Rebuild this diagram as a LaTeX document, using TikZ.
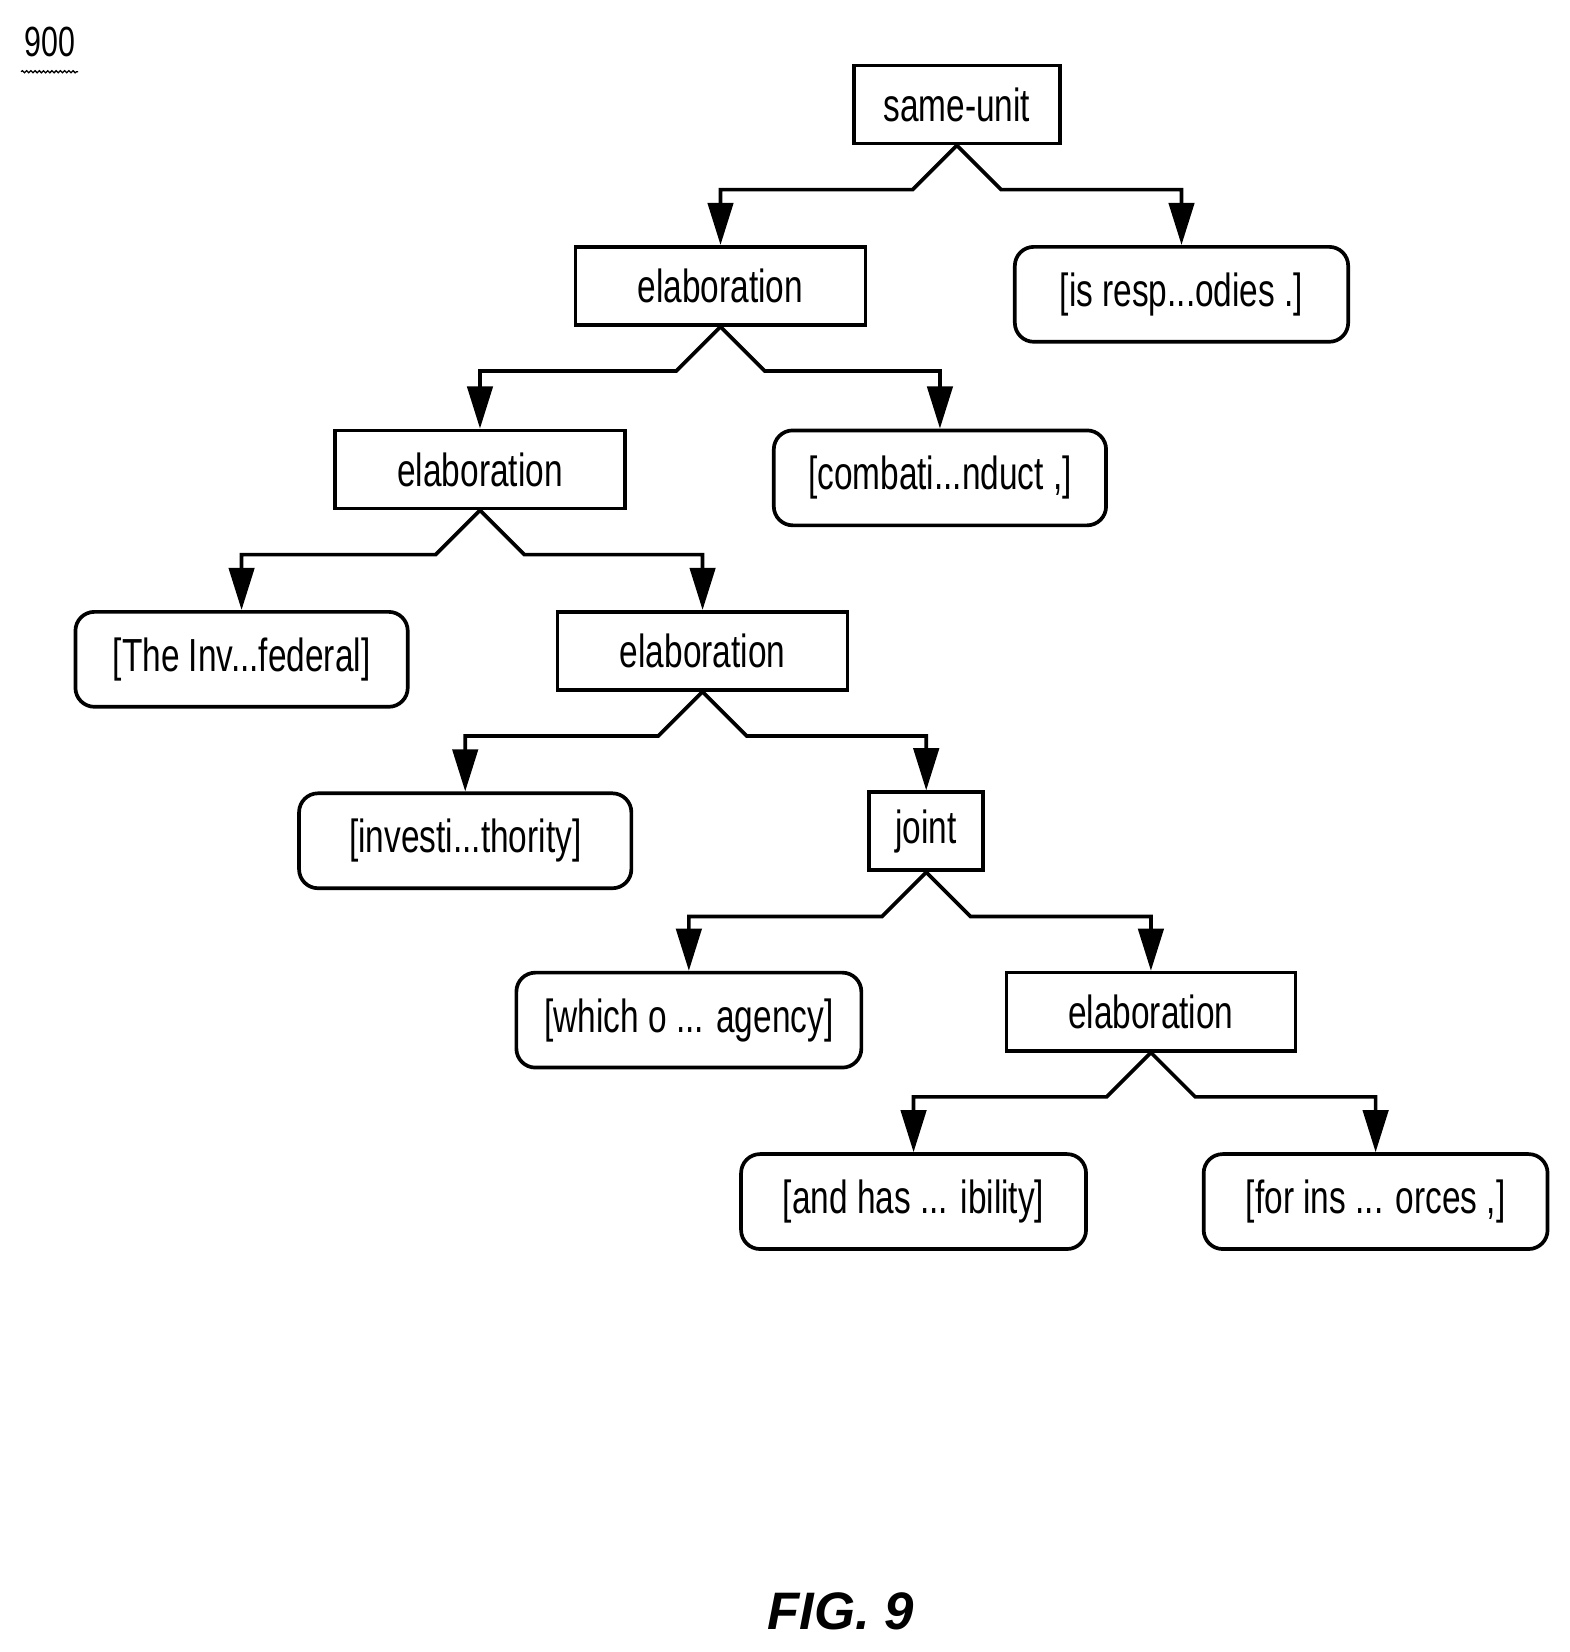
\documentclass[tikz,border=0pt]{standalone}
\usepackage{fontspec}
\setmainfont{Liberation Sans}
\usetikzlibrary{arrows.meta,decorations.pathmorphing}
\newcommand{\sq}[1]{\scalebox{0.72}[1]{#1}}
\begin{document}
\begin{tikzpicture}[x=1pt,y=-1pt,line width=3.5pt,
  rel/.style={draw,minimum width=#1,minimum height=74pt,inner sep=0pt,
    font=\fontsize{44}{44}\selectfont},
  leaf/.style={rel=#1,rounded corners=18pt,minimum height=90pt},
  arr/.style={-{Triangle[width=24pt,length=40pt]},line width=3.5pt}]
\useasboundingbox (0,0) rectangle (1488,1566);
\node[font=\fontsize{40}{40}\selectfont] (lbl) at (47,40) {\sq{900}};
\draw[line width=1.2pt,decorate,decoration={snake,amplitude=1pt,segment length=4pt}] (20,68) -- (74,68);
\node[rel=195pt] (su) at (907,99) {\sq{same-unit}};
\node[rel=275pt] (e1) at (683,271) {\sq{elaboration}};
\node[leaf=316pt] (l1) at (1120,279) {\sq{[is resp...odies .]}};
\node[rel=275pt] (e2) at (455,445) {\sq{elaboration}};
\node[leaf=315pt] (l2) at (891,453) {\sq{[combati...nduct ,]}};
\node[leaf=315pt] (l3) at (229,625) {\sq{[The Inv...federal]}};
\node[rel=275pt] (e3) at (666,617) {\sq{elaboration}};
\node[leaf=315pt] (l4) at (441,797) {\sq{[investi...thority]}};
\node[rel=108pt] (j) at (878,788) {\sq{joint}};
\node[leaf=327pt] (l5) at (653,967) {\sq{[which o ... agency]}};
\node[rel=274pt] (e4) at (1091,959) {\sq{elaboration}};
\node[leaf=327pt] (l6) at (866,1139) {\sq{[and has ... ibility]}};
\node[leaf=326pt] (l7) at (1304,1139) {\sq{[for ins ... orces ,]}};
\foreach \p/\a/\b in {su/e1/l1,e1/e2/l2,e2/l3/e3,e3/l4/j,j/l5/e4,e4/l6/l7}{
  \draw[arr] (\p.south) -- ++(-42,42) -| (\a.north);
  \draw[arr] (\p.south) -- ++(42,42) -| (\b.north);
}
\node[font=\fontsize{50}{50}\selectfont\bfseries\itshape] (fig) at (797,1527) {FIG. 9};
\end{tikzpicture}
\end{document}
